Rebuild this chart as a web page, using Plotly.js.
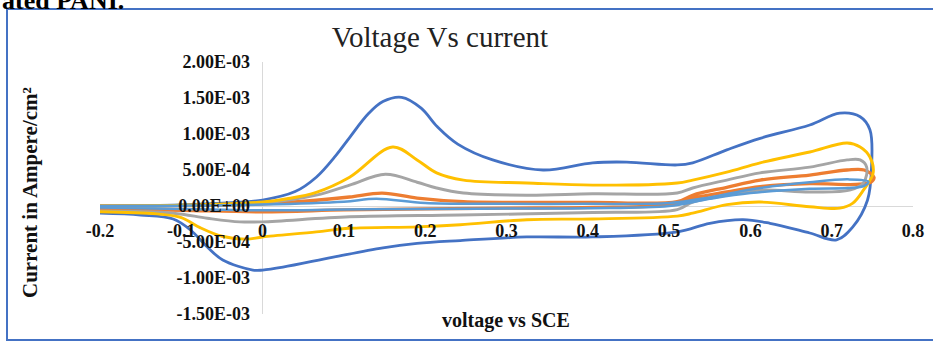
<!DOCTYPE html>
<html>
<head>
<meta charset="utf-8">
<script src="https://cdn.plot.ly/plotly-3.0.1.min.js"></script>
<style>html,body{margin:0;padding:0;background:#fff;}#chart{width:933px;height:343px;}</style>
</head>
<body>
<div id="chart"></div>
<script>
// Voltage (V vs SCE) and current (A/cm^2) for each loop
const blueV = [-0.2,-0.1,-0.05,0,0.04,0.066,0.09,0.107,0.13,0.148,0.171,0.195,0.215,0.24,0.283,0.345,0.406,0.448,0.51,0.529,0.571,0.612,0.673,0.71,0.735,0.747,0.749,0.744,0.726,0.706,0.673,0.624,0.591,0.55,0.51,0.406,0.325,0.243,0.19,0.148,0.087,0.025,0,-0.012,-0.049,-0.068,-0.089,-0.11,-0.15,-0.2];
const blueI = [0,0.14e-4,0.4e-4,0.83e-4,2.0e-4,4.0e-4,7.0e-4,9.5e-4,12.8e-4,14.5e-4,15.1e-4,13.6e-4,11.0e-4,8.6e-4,6.4e-4,5.0e-4,6.0e-4,6.1e-4,5.7e-4,6.0e-4,7.8e-4,9.4e-4,11.25e-4,12.9e-4,12.4e-4,10.6e-4,5.4e-4,0.8e-4,-2.9e-4,-4.7e-4,-3.75e-4,-2.4e-4,-1.9e-4,-2.4e-4,-3.6e-4,-4.3e-4,-4.3e-4,-4.8e-4,-5.2e-4,-5.8e-4,-7.1e-4,-8.5e-4,-8.9e-4,-8.9e-4,-7.5e-4,-5.7e-4,-3.3e-4,-1.8e-4,-1.25e-4,-1.0e-4];

const orangeV = [-0.2,-0.1,0,0.066,0.107,0.147,0.19,0.247,0.325,0.406,0.51,0.529,0.571,0.612,0.673,0.719,0.74,0.752,0.748,0.73,0.673,0.612,0.571,0.529,0.5,0.406,0.3,0.2,0.1,0,-0.1,-0.2];
const orangeI = [0,0.05e-4,0.3e-4,0.8e-4,1.25e-4,1.8e-4,1.1e-4,0.6e-4,0.5e-4,0.5e-4,0.6e-4,1.5e-4,2.6e-4,3.6e-4,4.3e-4,5.0e-4,5.0e-4,4.0e-4,3.3e-4,3.0e-4,3.1e-4,2.7e-4,1.95e-4,1.1e-4,0.2e-4,-0.2e-4,-0.3e-4,-0.4e-4,-0.55e-4,-0.8e-4,-0.6e-4,-0.4e-4];

const grayV = [-0.2,-0.1,0,0.066,0.107,0.151,0.19,0.214,0.247,0.325,0.406,0.51,0.529,0.571,0.612,0.673,0.719,0.735,0.743,0.739,0.722,0.673,0.612,0.571,0.529,0.51,0.406,0.243,0.107,0,-0.028,-0.068,-0.11,-0.2];
const grayI = [0,0.1e-4,0.4e-4,1.5e-4,2.9e-4,4.4e-4,3.3e-4,2.5e-4,1.8e-4,1.5e-4,1.7e-4,1.8e-4,2.5e-4,3.6e-4,4.6e-4,5.4e-4,6.4e-4,6.4e-4,5.4e-4,3.2e-4,2.2e-4,1.95e-4,2.2e-4,1.5e-4,0.55e-4,-0.5e-4,-0.9e-4,-1.25e-4,-1.5e-4,-2.2e-4,-2.2e-4,-1.7e-4,-1.0e-4,-0.7e-4];

const yellowV = [-0.2,-0.1,0,0.03,0.066,0.107,0.16,0.19,0.214,0.247,0.325,0.406,0.51,0.529,0.571,0.612,0.673,0.719,0.735,0.747,0.751,0.739,0.726,0.71,0.673,0.612,0.571,0.529,0.51,0.406,0.325,0.243,0.19,0.107,0.066,0,-0.02,-0.05,-0.077,-0.1,-0.13,-0.2];
const yellowI = [0,0.1e-4,0.55e-4,1.0e-4,1.9e-4,4.0e-4,8.2e-4,6.4e-4,4.6e-4,3.6e-4,3.2e-4,2.9e-4,3.2e-4,3.6e-4,4.7e-4,6.0e-4,7.5e-4,8.75e-4,8.2e-4,6.8e-4,4.6e-4,2.2e-4,0.4e-4,-0.3e-4,-0.1e-4,0.55e-4,0.2e-4,-1.0e-4,-1.4e-4,-1.8e-4,-1.9e-4,-2.6e-4,-2.9e-4,-3.1e-4,-3.6e-4,-4.3e-4,-4.6e-4,-4.2e-4,-3.0e-4,-1.6e-4,-1.1e-4,-0.8e-4];

const lblueV = [-0.2,-0.1,0,0.1,0.14,0.2,0.3,0.4,0.5,0.55,0.6,0.673,0.72,0.745,0.74,0.72,0.673,0.6,0.55,0.5,0.4,0.3,0.2,0.1,0,-0.1,-0.2];
const lblueI = [0,0.05e-4,0.2e-4,0.6e-4,1.0e-4,0.4e-4,0.3e-4,0.3e-4,0.4e-4,1.2e-4,2.3e-4,3.3e-4,3.7e-4,3.4e-4,2.8e-4,2.5e-4,2.4e-4,1.8e-4,1.0e-4,0.0,-0.3e-4,-0.35e-4,-0.4e-4,-0.5e-4,-0.6e-4,-0.4e-4,-0.2e-4];

const xTicks = [-0.2,-0.1,0,0.1,0.2,0.3,0.4,0.5,0.6,0.7,0.8];
const xTickText = ["-0.2","-0.1","0","0.1","0.2","0.3","0.4","0.5","0.6","0.7","0.8"];
const yTicks = [2.0e-3,1.5e-3,1.0e-3,5.0e-4,0,-5.0e-4,-1.0e-3,-1.5e-3];
const yTickText = ["2.00E-03","1.50E-03","1.00E-03","5.00E-04","0.00E+00","-5.00E-04","-1.00E-03","-1.50E-03"];

const serif = "Liberation Serif, Times New Roman, serif";
function tr(x, y, color, w){
  return {x:x, y:y, type:'scatter', mode:'lines', line:{color:color, width:w, shape:'spline', smoothing:1}, hoverinfo:'skip', showlegend:false};
}
const data = [
  tr(blueV, blueI, '#4472C4', 2.8),
  tr(orangeV, orangeI, '#ED7D31', 3.3),
  tr(grayV, grayI, '#A5A5A5', 2.9),
  tr(yellowV, yellowI, '#FFC000', 2.9),
  tr(lblueV, lblueI, '#5B9BD5', 2.5)
];

const layout = {
  width:933, height:343,
  margin:{l:100, r:20, t:62, b:29},
  paper_bgcolor:'#fff', plot_bgcolor:'#fff',
  showlegend:false,
  title:{text:'Voltage Vs current', font:{family:serif, size:29, color:'#222'}, x:440/933, xref:'container', xanchor:'center', y:1-37/343, yref:'container', yanchor:'middle'},
  xaxis:{range:[-0.2,0.8], anchor:'free', position:1.5/3.5, showgrid:false, zeroline:true, zerolinecolor:'#d9d9d9', zerolinewidth:1,
         showline:false, tickvals:xTicks, ticktext:xTickText, ticks:'outside', ticklen:8, tickcolor:'rgba(0,0,0,0)',
         tickfont:{family:serif, size:18, color:'#111', weight:'bold'}},
  yaxis:{range:[-1.5e-3,2.0e-3], anchor:'free', position:0.2, showgrid:false, zeroline:true, zerolinecolor:'#d9d9d9', zerolinewidth:1,
         showline:false, tickvals:yTicks, ticktext:yTickText, ticks:'outside', ticklen:9, tickcolor:'rgba(0,0,0,0)',
         tickfont:{family:serif, size:18, color:'#111', weight:'bold'}},
  annotations:[
    {text:'Current in Ampere/cm²', xref:'paper', yref:'paper', x:(30-100)/813, y:(314-193)/252, textangle:-90, showarrow:false,
     xanchor:'center', yanchor:'middle', font:{family:serif, size:21, color:'#111', weight:'bold'}},
    {text:'voltage vs SCE', xref:'paper', yref:'paper', x:(506-100)/813, y:(314-320)/252, showarrow:false,
     xanchor:'center', yanchor:'middle', font:{family:serif, size:20, color:'#111', weight:'bold'}},
    {text:'ated PANI.', xref:'paper', yref:'paper', x:(0-100)/813, y:(314-0)/252, showarrow:false,
     xanchor:'left', yanchor:'middle', font:{family:serif, size:26, color:'#000', weight:'bold'}}
  ],
  shapes:[
    {type:'rect', xref:'paper', yref:'paper', x0:(7-100)/813, x1:(940-100)/813, y0:(314-340)/252, y1:(314-9)/252,
     line:{color:'#4472C4', width:2}, fillcolor:'rgba(0,0,0,0)', layer:'below'}
  ]
};
Plotly.newPlot('chart', data, layout, {staticPlot:true, displayModeBar:false});
</script>
</body>
</html>
